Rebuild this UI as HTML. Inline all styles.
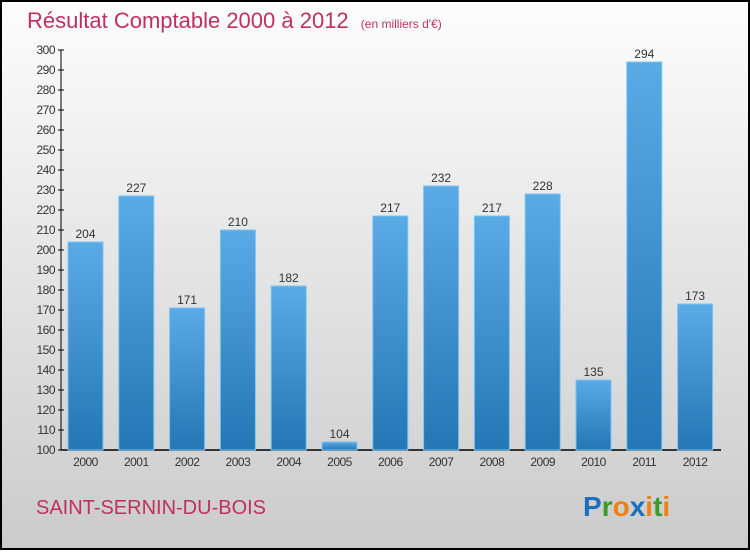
<!DOCTYPE html>
<html><head><meta charset="utf-8"><style>
body{margin:0;}
#c{width:750px;height:550px;position:relative;font-family:"Liberation Sans",sans-serif;}
</style></head><body>
<div id="c">
<svg width="750" height="550" xmlns="http://www.w3.org/2000/svg">
<defs>
<linearGradient id="bg" x1="0" y1="0" x2="0" y2="1"><stop offset="0" stop-color="#fdfdfd"/><stop offset="1" stop-color="#cbcbcb"/></linearGradient>
<linearGradient id="bar" x1="0" y1="0" x2="0" y2="1"><stop offset="0" stop-color="#5aaae6"/><stop offset="1" stop-color="#2476b4"/></linearGradient>
</defs>
<rect x="1" y="1" width="748" height="548" fill="url(#bg)" stroke="#000" stroke-width="2"/>
<text x="27" y="28" font-size="22" fill="#c0305e">Résultat Comptable 2000 à 2012 <tspan font-size="12" dx="6">(en milliers d'€)</tspan></text>
<g id="axes"></g>
<g id="bars"></g>
<text x="36" y="514" font-size="20" fill="#c0305e">SAINT-SERNIN-DU-BOIS</text>
<text x="583" y="516" font-size="28" font-weight="bold"><tspan fill="#1a6fc0">P</tspan><tspan fill="#3a9a2a">r</tspan><tspan fill="#f08010">o</tspan><tspan fill="#1a6fc0">x</tspan><tspan fill="#f08010">i</tspan><tspan fill="#3a9a2a">t</tspan><tspan fill="#f08010">i</tspan></text>
</svg>
</div>
<script>
const years=["2000","2001","2002","2003","2004","2005","2006","2007","2008","2009","2010","2011","2012"];
const values=[204,227,171,210,182,104,217,232,217,228,135,294,173];
const ticks=[100,110,120,130,140,150,160,170,180,190,200,210,220,230,240,250,260,270,280,290,300];
const NS="http://www.w3.org/2000/svg";
const y=v=>450-(v-100)*2;
const x=i=>85.5+i*50.8;
function mk(t,a,p,txt){const e=document.createElementNS(NS,t);for(const k in a)e.setAttribute(k,a[k]);if(txt!==undefined)e.textContent=txt;p.appendChild(e);return e;}
const ax=document.getElementById('axes'),bg=document.getElementById('bars');
let l=mk('line',{x1:61,y1:50,x2:61,y2:450,stroke:'#000'},ax);


l=mk('line',{x1:61,y1:450,x2:721,y2:450,stroke:'#000','stroke-width':1.5},ax);


ticks.forEach(t=>{
 mk('line',{x1:58,y1:y(t),x2:64,y2:y(t),stroke:'#000'},ax);
 const e=mk('text',{x:55,y:y(t)+4,'font-size':12,'text-anchor':'end',fill:'#333','letter-spacing':'-0.5'},ax,t);
 
 
});
years.forEach((yr,i)=>{
 const v=values[i];
 const r=mk('rect',{x:x(i)-17.5,y:y(v),width:35,height:450-y(v),fill:'url(#bar)',stroke:'#7cc4f4','stroke-width':1},bg);
 
 
 const t=mk('text',{x:x(i),y:y(v)-4,'font-size':12,'text-anchor':'middle',fill:'#333'},bg,v);
 
 
 const xl=mk('text',{x:x(i),y:466,'font-size':12,'text-anchor':'middle',fill:'#333','letter-spacing':'-0.5'},bg,yr);
 
 
});
</script>
</body></html>
